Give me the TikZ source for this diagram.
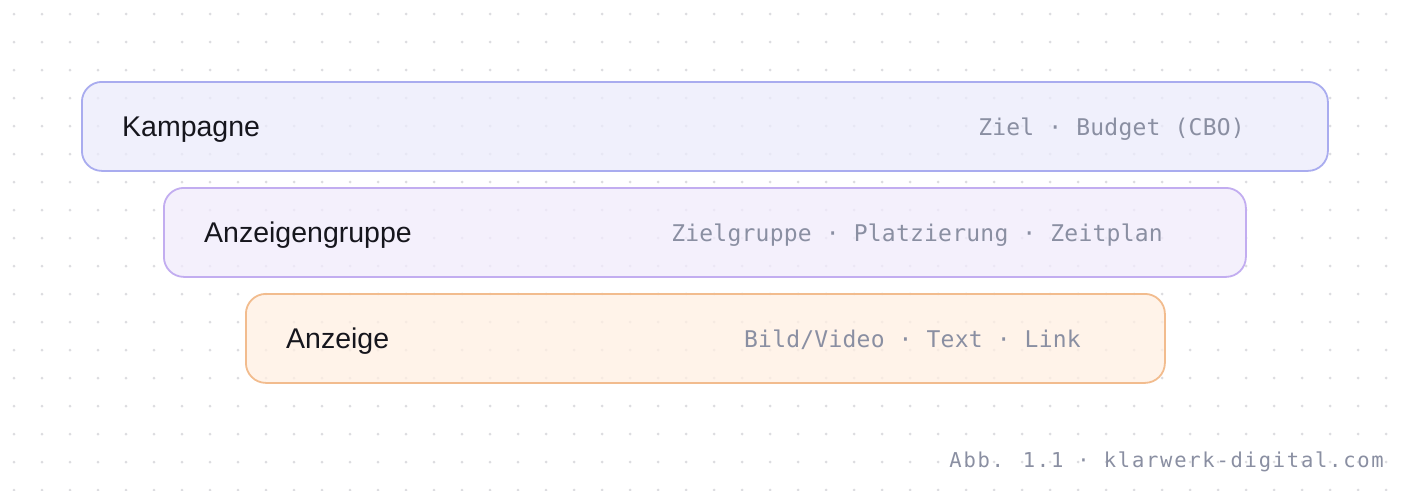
\documentclass[tikz,border=0pt]{standalone}
\usepackage{fontspec}
\setmainfont{Liberation Sans}
\newfontfamily\monofont{DejaVu Sans Mono}[LetterSpace=1]
\newfontfamily\footfont{DejaVu Sans Mono}[LetterSpace=8.5]
\definecolor{dotc}{HTML}{DCDCE0}
\definecolor{fillA}{HTML}{EBEBFB}
\definecolor{drawA}{HTML}{A9ACEF}
\definecolor{fillB}{HTML}{F1EBFC}
\definecolor{drawB}{HTML}{C2ADF0}
\definecolor{fillC}{HTML}{FFEFE2}
\definecolor{drawC}{HTML}{F2BC8E}
\definecolor{labc}{HTML}{16161D}
\definecolor{monoc}{HTML}{8A8FA2}
\tikzset{
  layerbox/.style={rectangle, rounded corners=20pt, line width=1.8pt, fill opacity=0.75,
    minimum height=89pt, anchor=north west, inner sep=0pt},
  layerlabel/.style={inner sep=0pt, anchor=base west, text=labc,
    font=\fontsize{28.5}{32}\selectfont},
  layerinfo/.style={inner sep=0pt, anchor=base east, text=monoc,
    font=\monofont\fontsize{23}{27}\selectfont},
  footnote/.style={inner sep=0pt, anchor=base east, text=monoc,
    font=\footfont\fontsize{20.5}{24}\selectfont}
}
\begin{document}
\begin{tikzpicture}[x=1pt,y=-1pt]
\useasboundingbox (0,0) rectangle (1408,490);
\fill[white] (0,0) rectangle (1408,490);
\foreach \i in {0,...,49}{
  \foreach \j in {0,...,17}{
    \fill[dotc] (14+28*\i,14+28*\j) circle (1.5pt);
  }
}
\node[layerbox, draw=drawA, fill=fillA, minimum width=1246pt] (kamp) at (81,81) {};
\node[layerbox, draw=drawB, fill=fillB, minimum width=1082pt] (grp) at (163,187) {};
\node[layerbox, draw=drawC, fill=fillC, minimum width=919pt] (anz) at (245,293) {};

\node[layerlabel] (kampL) at (122,136) {Kampagne};
\node[layerlabel] (grpL) at (204,242) {Anzeigengruppe};
\node[layerlabel] (anzL) at (286,348) {Anzeige};

\node[layerinfo] (kampI) at (1245,135) {Ziel · Budget (CBO)};
\node[layerinfo] (grpI) at (1163,241) {Zielgruppe · Platzierung · Zeitplan};
\node[layerinfo] (anzI) at (1081,347) {Bild/Video · Text · Link};

\node[footnote] (foot) at (1384,467) {Abb. 1.1 · klarwerk-digital.com};
\end{tikzpicture}
\end{document}
